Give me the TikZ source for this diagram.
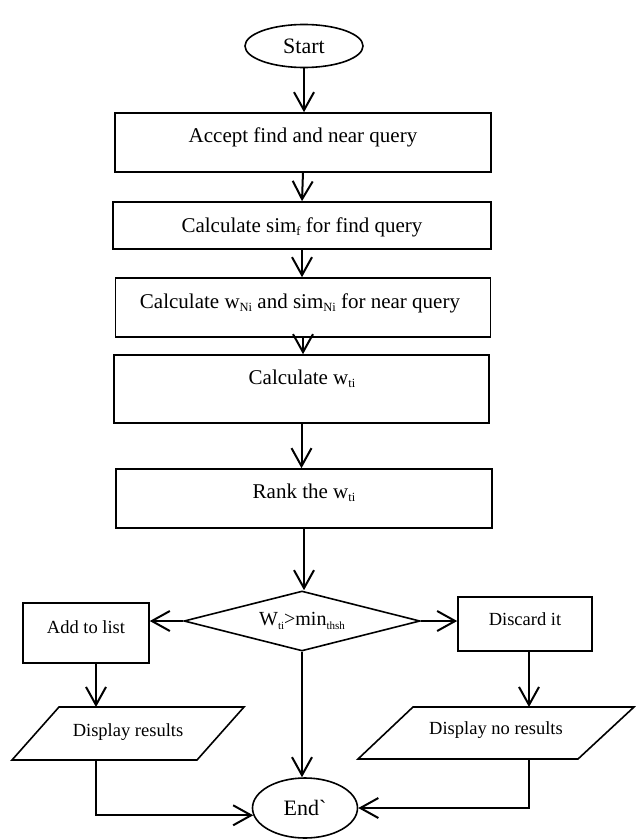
\documentclass[tikz,border=0pt]{standalone}
\usepackage{fontspec}
\setmainfont{Liberation Serif}
\usetikzlibrary{shapes.geometric,arrows.meta,calc}
% small lowered index, as used in the variable names
\newcommand\lowidx[2][12.5]{\raisebox{-0.35ex}{\fontsize{#1}{#1}\selectfont #2}}
\begin{document}
\begin{tikzpicture}[x=1pt,y=-1pt,
  box/.style={draw,line width=1.6pt,inner sep=0pt,rectangle},
  oval/.style={draw,line width=1.6pt,ellipse,inner sep=0pt},
  shapeline/.style={line width=1.6pt,line join=miter},
  big/.style={font=\fontsize{21}{25}\selectfont,inner sep=0pt},
  terminal/.style={font=\fontsize{22}{26}\selectfont},
  small/.style={font=\fontsize{18.5}{22}\selectfont,inner sep=0pt},
  flow/.style={line width=2pt,-{Straight Barb[length=18pt,width=20pt,line width=2pt]}},
]
\useasboundingbox (0,0) rectangle (636,840);

% main column
\node[oval,terminal,minimum width=118pt,minimum height=43pt] (start) at (304,46) {Start};

\node[box,minimum width=376pt,minimum height=59pt] (accept) at (303,142.5) {};
\node[big] (acceptT) at (303,137) {Accept find and near query};

\node[box,minimum width=378pt,minimum height=47pt] (simf) at (302,225.5) {};
\node[big] (simfT) at (302,227) {Calculate sim\lowidx{f} for find query};

\node[box,minimum width=375pt,minimum height=59pt] (wni) at (303,307.5) {};
\node[big] (wniT) at (300,303) {Calculate w\lowidx{Ni} and sim\lowidx{Ni} for near query};

\node[box,minimum width=375pt,minimum height=68pt] (wti) at (301.5,389) {};
\node[big] (wtiT) at (302,379) {Calculate w\lowidx{ti}};

\node[box,minimum width=376pt,minimum height=59pt] (rank) at (304,498.5) {};
\node[big] (rankT) at (304,493) {Rank the w\lowidx{ti}};

% decision
\node[diamond,draw,line width=1.6pt,aspect=3.9,inner sep=0pt,
      minimum width=236pt,minimum height=60pt,
      font=\fontsize{20}{23}\selectfont] (dec) at (302,621)
      {W\lowidx[11]{ti}>min\lowidx[11]{thsh}};

% left branch
\node[box,minimum width=126pt,minimum height=60pt] (addlist) at (86,633) {};
\node[small] (addlistT) at (86,627) {Add to list};
\draw[shapeline] (59,707) -- (244,707) -- (197,760) -- (12,760) -- cycle;
\node[small] (dispres) at (128,732) {Display results};

% right branch
\node[box,minimum width=134pt,minimum height=54pt] (discard) at (525,624) {};
\node[small] (discardT) at (525,619) {Discard it};
\draw[shapeline] (413,707) -- (634,707) -- (578,759) -- (358,759) -- cycle;
\node[small] (dispno) at (496,730) {Display no results};

% terminal
\node[oval,terminal,minimum width=105pt,minimum height=60pt] (end) at (305,808) {End\textasciigrave};

% connector end points
\coordinate (alB) at (96,663);
\coordinate (drT) at (96,707);
\coordinate (drB) at (96,760);
\coordinate (dcB) at (529,651);
\coordinate (dnT) at (529,707);
\coordinate (dnB) at (529,759);

% connectors
\draw[flow] (start.south) -- (start.south |- accept.north);
\draw[flow] (303,172) -- (simf.north);
\draw[flow] (simf.south) -- (simf.south |- wni.north);
\draw[flow] (wni.south) -- (wni.south |- wti.north);
\draw[flow] (wti.south) -- (wti.south |- rank.north);
\draw[flow] (rank.south) -- (rank.south |- dec.north);
\draw[flow] (dec.west) -- (dec.west -| addlist.east);
\draw[flow] (dec.east) -- (dec.east -| discard.west);
\draw[flow] (alB) -- (drT);
\draw[flow] (dcB) -- (dnT);
\draw[flow] (dec.south) -- (dec.south |- end.north);
\draw[flow] (drB) |- (end.188);
\draw[flow] (dnB) |- (end.east);
\end{tikzpicture}
\end{document}
